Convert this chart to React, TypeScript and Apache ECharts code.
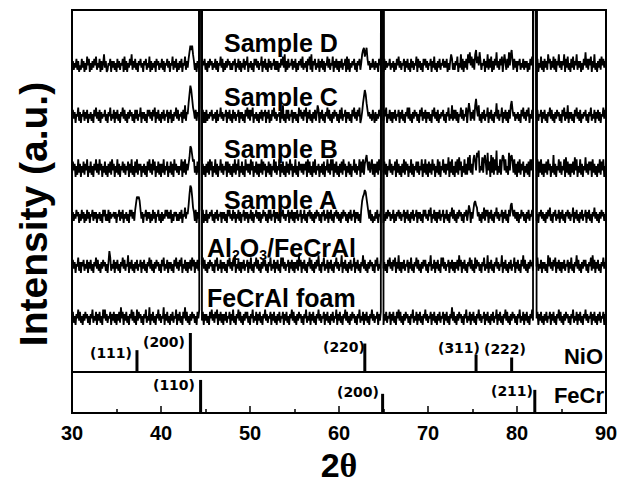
import React, { useEffect, useRef } from "react";
import * as echarts from "echarts";

// ---------------- data ----------------
const X_MIN = 30;
const X_MAX = 90;
const STEP = 0.1; // degrees between noise samples
const xTicks = [30, 40, 50, 60, 70, 80, 90];

const sampleNames = ["Sample D", "Sample C", "Sample B", "Sample A", "Al2O3/FeCrAl", "FeCrAl foam"];

// noise heights, one base-36 char per 0.1 deg, 10 chars per degree (30 .. 90)
const noiseD = `
0514261503 1625041736 0415263714 2605148250 1436052514 0625143607 1504263815 2614053624 0536142705 1425063514
2615043625 0437152604 1526043715 269cac8514 0526141536 1405263514 2615043726 0415263514 1536042615 0426153704
2514063625 1437052614 0625143615 1504263728 0516243615 2604153627 1425063718 0536142605 2615043726 1437052615
0526143607 1604253614 0536148ab7 9b63514263 1524063725 0615243614 2504163725 1436052614 0625143706 2514063625
1436052714 0526143625 2604158614 1537042816 0526184937 2618a47395 1436052816 2705163925 1637058416 2938a51625
0536142615 2504163725 1536042715 0625184615 2716053825 1538062714 0627153815 2504163926 1637052814 0526173625 1`;
const noiseC = `
1625043715 0436152604 2514063725 1605243614 0537142605 2614053726 1405263514 0626143705 2514063625 1637052614
0526143605 2604153726 1435062815 49dhfb7526 1537142605 0614253614 2506143725 1436052614 0625143605 2514063726
1637042514 0526153605 2604163725 1435062814 0626143605 2514073625 1637052614 0526148605 2614053726 1405263514
0627143605 2514063725 16370259cf d963524163 0514263725 1637042615 0526143605 2614053727 1405263514 0637152605
2514063725 1604253614 0537142816 2615043726 1437059615 2618b63814 0526143705 2614053926 1437052615 0628a63514
2514063725 1637042615 0526143605 2614053726 1405263514 0637152805 2514063725 1604253614 0537142605 2615043726 1`;
const noiseB = `
1736051826 0527163805 2715063826 1836052715 0627183605 2816053726 1537062815 0728163605 2615073826 1837052716
0628153705 2716083625 1538072816 369eda7825 1728063615 0627183705 2816053826 1537072615 0628163805 2715083626
1837052716 0628173605 2716053827 1538062715 0726183605 2815073626 1637082715 0728153605 2617053826 1838062715
0627183605 2716053826 1538072816 8a63725816 0627183605 2716053826 1537082615 0628173605 2816053727 1538062816
0726183605 2817053826 1639072815 0728193705 2816193a26 18a73b9c25 3928a61b37 0a29183c15 2817a93825 1b39a72816
0728163705 2617083826 1538072816 0627183605 2a16053827 1538092716 0627193805 2816053926 1737082615 0628173805 2`;
const noiseA = `
0514263504 1625041625 0436152504 2514063614 1605243525 0436152604 2514063625 169cbca625 0436152504 1625043614
0514263625 2604153514 1526043725 48dhgc7516 0526142604 1604253614 0526143505 2514063624 1625042615 0436152504
2615043625 1504263514 0626143605 2514053624 1436052615 0526143604 2614053625 1405263514 0536142605 2614053625
1405263514 0526143605 251406acdf eb85261403 1526043625 0415263514 2604153625 1436052614 0526143605 2514063624
1637042615 0526143604 2614053726 1405263514 0536148605 269a873514 0527163605 2614053725 1436052614 0638953625
1504263514 0526143605 2614053625 1405263714 0536142605 2614053625 1437052614 0526143605 2614053725 1405263514 0`;
const noiseAl = `
1625043715 0536142605 2614053726 1405263514 05a7142605 2614053726 1438052614 0526143605 2614053726 1405263514
0637142605 2514063725 1637042615 0526173605 2614053726 1405263514 0637142605 2514063725 1638042615 0526143605
2714053726 1405263614 0537142605 2614073725 1436052615 0526183605 2614053726 1405263814 0537142605 2614053725
1438052614 0526143705 2614053826 1405263514 0637142605 2514063725 1637052815 0526143605 2714053726 1405263614
0538142605 2614073725 1436052615 0526183605 2614053726 1407263514 0537142805 2614053725 1438052614 0526143705
2614063826 1405263514 0637142605 2514083725 1637052615 0526143605 2714053826 1405263614 0537182605 2614053725 1`;
const noiseFe = `
2614053726 1405263514 0537142605 2614073725 1436052615 0526183605 2614053726 1407263514 0537142805 2614053725
1438052614 0526143705 2614063826 1405263514 0637142605 2514063725 1637052615 0526143605 2714053726 1405263614
0537142605 2614053725 1436052614 0526143605 2614053726 1405263514 0537142605 2614053725 1436052614 0526143705
2614053726 1405263514 0537142605 2614053725 1436052614 0526143605 2614063726 1405263514 0537142605 2614053725
1436052614 0526143605 2614053826 1405263514 0537142605 2614053725 1436052614 0526143705 2614053726 1405263514
0537142605 2614053725 1436052614 0526143605 2614053726 1405263514 0537142605 2614053725 1436052614 0526143605 2`;

// strong FeCr substrate reflections, [start, end] of the off-scale peak (deg)
const peaksUpper = [[44.36, 44.54], [64.76, 64.94], [81.86, 82.14]];
const peaksLower = [[44.32, 44.58], [64.72, 64.98], [81.82, 82.18]];

// reference stick patterns
const nioPos = [37.3, 43.3, 62.9, 75.4, 79.4];
const nioInt = [56, 100, 73, 44, 37];
const nioHkl = ["(111)", "(200)", "(220)", "(311)", "(222)"];
const fecrPos = [44.45, 64.9, 82.0];
const fecrInt = [100, 58, 70];
const fecrHkl = ["(110)", "(200)", "(211)"];

// ---------------- layout ----------------
const traceNoise = [noiseD, noiseC, noiseB, noiseA, noiseAl, noiseFe];
const tracePeaks = [peaksUpper, peaksUpper, peaksUpper, peaksUpper, peaksLower, peaksLower];
const traceOffset = [341, 290, 236, 190, 140, 88]; // px above plot bottom
const UNIT = 2.2; // px per noise unit
const PEAK_TOP = 700;

const sampleLabelPos = [
  [224, 43], [224, 97], [224, 149], [224, 200], [207, 248], [207, 298],
];
const nioLabelPos = [[111, 353], [164, 342], [344, 347], [459, 348], [505, 349]];
const fecrLabelPos = [[174, 385], [358, 392], [512, 391]];

const SANS = "Arial, 'Liberation Sans', sans-serif";

function buildTrace(noise: string, peaks: number[][], offset: number) {
  const chars = noise.replace(/\s/g, "");
  const pts: number[][] = [];
  for (let i = 0; i < chars.length; i++) {
    const x = +(X_MIN + i * STEP).toFixed(2);
    if (x > X_MAX + 1e-6) break;
    if (peaks.some(([a, b]) => x > a && x < b)) continue;
    pts.push([x, offset + parseInt(chars[i], 36) * UNIT]);
  }
  for (const [a, b] of peaks) {
    pts.push([a, PEAK_TOP], [b, PEAK_TOP]);
  }
  pts.sort((p, q) => p[0] - q[0]);
  return pts;
}

export default function App() {
  const ref = useRef<HTMLDivElement>(null);

  useEffect(() => {
    if (!ref.current) return;
    const chart = echarts.init(ref.current, undefined, { renderer: "svg" });

    const traceSeries = traceNoise.map((n, i) => ({
      type: "line",
      name: sampleNames[i],
      xAxisIndex: 0,
      yAxisIndex: 0,
      data: buildTrace(n, tracePeaks[i], traceOffset[i]),
      symbol: "none",
      showSymbol: false,
      clip: true,
      silent: true,
      lineStyle: { color: "#000", width: 1.8 },
      z: 3,
    }));

    const textEl = (text: string, x: number, y: number, font: string, align = "center") => ({
      type: "text",
      x,
      y,
      silent: true,
      style: { text, font, fill: "#000", align, verticalAlign: "middle" },
    });

    const graphics: any[] = [];
    sampleNames.forEach((name, i) => {
      const [x, y] = sampleLabelPos[i];
      if (name === "Al2O3/FeCrAl") {
        graphics.push({
          type: "text",
          x,
          y,
          silent: true,
          style: {
            text: "{n|Al}{s|2}{n|O}{s|3}{n|/FeCrAl}",
            align: "left",
            verticalAlign: "middle",
            fill: "#000",
            rich: {
              n: { fontFamily: SANS, fontWeight: "bold", fontSize: 25, lineHeight: 28, fill: "#000" },
              s: { fontFamily: SANS, fontWeight: "bold", fontSize: 14, lineHeight: 14, verticalAlign: "bottom", fill: "#000" },
            },
          },
        });
      } else {
        graphics.push(textEl(name, x, y, `bold 25px ${SANS}`, "left"));
      }
    });
    nioHkl.forEach((t, i) => graphics.push(textEl(t, nioLabelPos[i][0], nioLabelPos[i][1], "bold 14px 'DejaVu Sans', sans-serif")));
    fecrHkl.forEach((t, i) => graphics.push(textEl(t, fecrLabelPos[i][0], fecrLabelPos[i][1], "bold 14px 'DejaVu Sans', sans-serif")));
    graphics.push(textEl("NiO", 603, 356, `bold 22px ${SANS}`, "right"));
    graphics.push(textEl("FeCr", 604, 395, `bold 22px ${SANS}`, "right"));
    graphics.push({
      type: "text",
      x: 33,
      y: 214,
      rotation: Math.PI / 2,
      silent: true,
      style: { text: "Intensity (a.u.)", font: `bold 39px ${SANS}`, fill: "#000", align: "center", verticalAlign: "middle" },
    });
    graphics.push({
      type: "text",
      x: 339,
      y: 465,
      silent: true,
      style: {
        text: "{a|2}{b|θ}",
        align: "center",
        verticalAlign: "middle",
        rich: {
          a: { fontFamily: SANS, fontWeight: "bold", fontSize: 34, fill: "#000" },
          b: { fontFamily: "'Liberation Serif', 'DejaVu Serif', serif", fontWeight: "bold", fontSize: 34, fill: "#000" },
        },
      },
    });

    const hiddenX = (gridIndex: number) => ({
      type: "value",
      gridIndex,
      min: X_MIN,
      max: X_MAX,
      interval: 10,
      show: false,
      splitLine: { show: false },
    });

    chart.setOption({
      animation: false,
      grid: [
        { left: 72, right: 24, top: 10, bottom: 75, show: true, borderColor: "#000", borderWidth: 2, backgroundColor: "transparent" },
        { left: 72, right: 24, top: 333, height: 39 },
        { left: 72, right: 24, top: 372, bottom: 75 },
      ],
      xAxis: [
        hiddenX(0),
        {
          type: "value",
          gridIndex: 1,
          min: X_MIN,
          max: X_MAX,
          interval: 10,
          axisLine: { show: true, onZero: false, lineStyle: { color: "#000", width: 2 } },
          axisTick: { show: false },
          axisLabel: { show: false },
          splitLine: { show: false },
        },
        {
          type: "value",
          gridIndex: 2,
          min: X_MIN,
          max: X_MAX,
          interval: 10,
          axisLine: { show: true, onZero: false, lineStyle: { color: "#000", width: 2 } },
          axisTick: { show: true, inside: true, length: 7, lineStyle: { color: "#000", width: 1.5 } },
          minorTick: { show: true, splitNumber: 2, length: 4, lineStyle: { color: "#000", width: 1.5 } },
          axisLabel: {
            show: true,
            margin: 10,
            color: "#000",
            fontSize: 20,
            fontWeight: "bold",
            fontFamily: SANS,
            formatter: (v: number) => (xTicks.includes(v) ? String(v) : ""),
          },
          splitLine: { show: false },
        },
      ],
      yAxis: [
        { type: "value", gridIndex: 0, min: 0, max: 403, show: false, splitLine: { show: false } },
        { type: "value", gridIndex: 1, min: 0, max: 100, show: false, splitLine: { show: false } },
        { type: "value", gridIndex: 2, min: 0, max: 124, show: false, splitLine: { show: false } },
      ],
      series: [
        ...traceSeries,
        {
          type: "bar",
          name: "NiO",
          xAxisIndex: 1,
          yAxisIndex: 1,
          barWidth: 3,
          silent: true,
          itemStyle: { color: "#000" },
          data: nioPos.map((p, i) => [p, nioInt[i]]),
        },
        {
          type: "bar",
          name: "FeCr",
          xAxisIndex: 2,
          yAxisIndex: 2,
          barWidth: 3,
          silent: true,
          itemStyle: { color: "#000" },
          data: fecrPos.map((p, i) => [p, fecrInt[i]]),
        },
      ],
      graphic: graphics,
    });

    return () => chart.dispose();
  }, []);

  return (
    <div
      ref={ref}
      style={{ position: "fixed", left: 0, top: 0, width: 630, height: 488, background: "#fff" }}
    />
  );
}
